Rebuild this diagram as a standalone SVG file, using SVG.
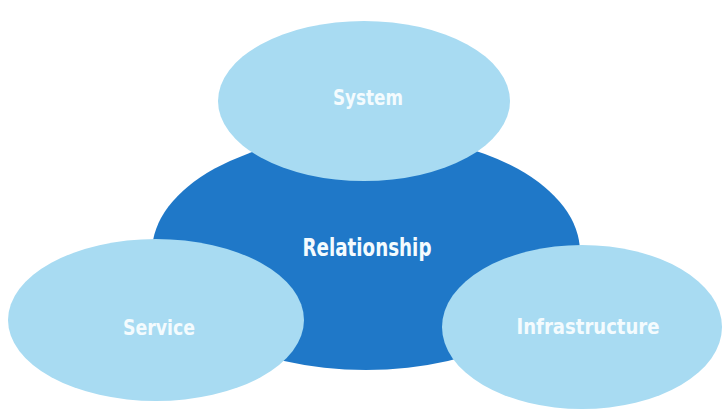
<svg xmlns="http://www.w3.org/2000/svg" width="728" height="411" viewBox="0 0 728 411">
<style>
.light{fill:#a8dbf2}
.dark{fill:#1f78c8}
.lbl{font-family:"DejaVu Sans","Liberation Sans",sans-serif;font-weight:bold;fill:#f4fbfe;text-anchor:middle}
</style>
<rect width="728" height="411" fill="#ffffff"/>
<g id="connectors"></g>
<g id="relationship">
<ellipse class="dark" cx="366" cy="252" rx="214" ry="118"/>
<text class="lbl" x="367" y="256" font-size="25" textLength="129" lengthAdjust="spacingAndGlyphs">Relationship</text>
</g>
<g id="system">
<ellipse class="light" cx="364" cy="101" rx="146" ry="80"/>
<text class="lbl" x="368" y="105" font-size="22" textLength="70" lengthAdjust="spacingAndGlyphs">System</text>
</g>
<g id="service">
<ellipse class="light" cx="156" cy="320" rx="148" ry="81"/>
<text class="lbl" x="159" y="335" font-size="22" textLength="72" lengthAdjust="spacingAndGlyphs">Service</text>
</g>
<g id="infrastructure">
<ellipse class="light" cx="582" cy="327" rx="140" ry="82"/>
<text class="lbl" x="588" y="334" font-size="21" textLength="143" lengthAdjust="spacingAndGlyphs">Infrastructure</text>
</g>
</svg>
